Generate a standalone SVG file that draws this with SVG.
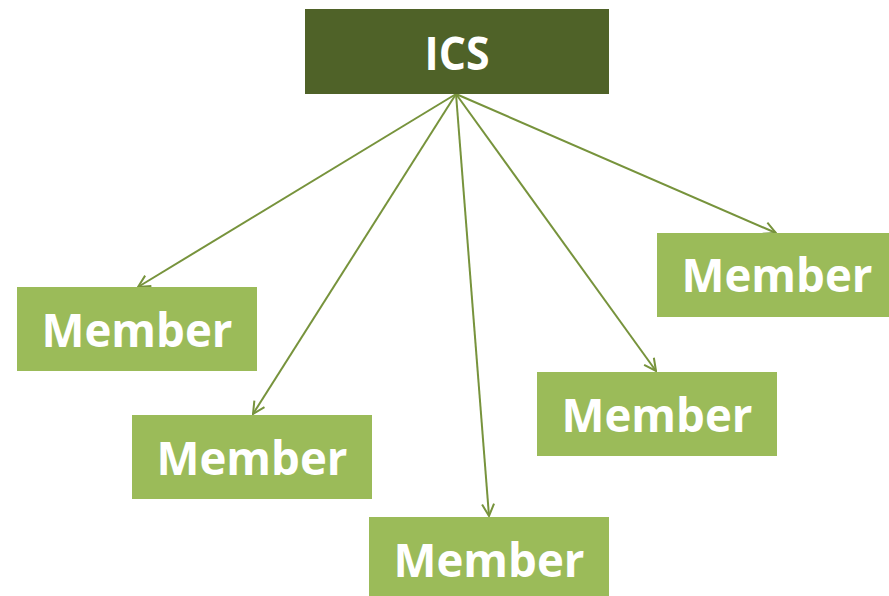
<svg xmlns="http://www.w3.org/2000/svg" width="889" height="596" viewBox="0 0 889 596">
<style>
.top{fill:#4F6228}
.mem{fill:#9BBB59}
.t{font-family:"Open Sans","Liberation Sans",sans-serif;font-weight:bold;fill:#ffffff;text-anchor:middle}
.m{font-size:46px}
.c{stroke:#77933C;stroke-width:2;fill:none;marker-end:url(#arr)}
</style>
<defs>
<marker id="arr" viewBox="0 0 14 14" refX="13" refY="7" markerWidth="14" markerHeight="14" markerUnits="userSpaceOnUse" orient="auto">
<path d="M1,1 L13,7 L1,13" fill="none" stroke="#77933C" stroke-width="2"/>
</marker>
</defs>
<g id="connectors">
<line class="c" x1="456" y1="94" x2="138" y2="287"/>
<line class="c" x1="456" y1="94" x2="253" y2="414"/>
<line class="c" x1="456" y1="94" x2="489" y2="516"/>
<line class="c" x1="456" y1="94" x2="656" y2="371"/>
<line class="c" x1="456" y1="94" x2="776" y2="233"/>
</g>
<g id="ics">
<rect class="top" x="305" y="9" width="304" height="85"/>
<text class="t" x="457" y="70" font-size="47" textLength="65" lengthAdjust="spacingAndGlyphs">ICS</text>
</g>
<g id="member1">
<rect class="mem" x="17" y="287" width="240" height="84"/>
<text class="t m" x="137" y="347" textLength="191" lengthAdjust="spacingAndGlyphs">Member</text>
</g>
<g id="member2">
<rect class="mem" x="132" y="415" width="240" height="84"/>
<text class="t m" x="252" y="475" textLength="191" lengthAdjust="spacingAndGlyphs">Member</text>
</g>
<g id="member3">
<rect class="mem" x="369" y="517" width="240" height="79"/>
<text class="t m" x="489" y="577" textLength="191" lengthAdjust="spacingAndGlyphs">Member</text>
</g>
<g id="member4">
<rect class="mem" x="537" y="372" width="240" height="84"/>
<text class="t m" x="657" y="432" textLength="191" lengthAdjust="spacingAndGlyphs">Member</text>
</g>
<g id="member5">
<rect class="mem" x="657" y="233" width="232" height="84"/>
<text class="t m" x="777" y="292" textLength="191" lengthAdjust="spacingAndGlyphs">Member</text>
</g>
</svg>
